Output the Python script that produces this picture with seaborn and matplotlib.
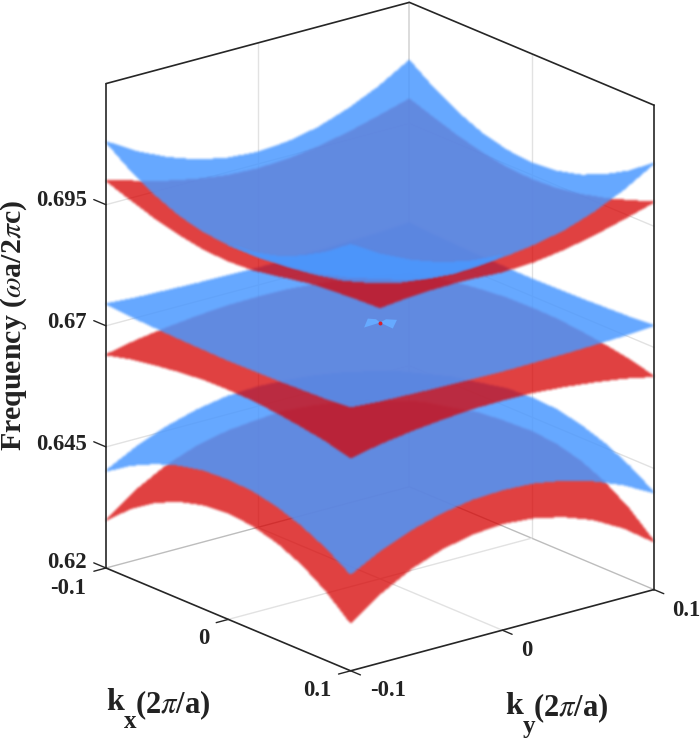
import numpy as np
import matplotlib
matplotlib.use("Agg")
import matplotlib.pyplot as plt
from matplotlib.colors import to_rgb, to_rgba
import seaborn as sns
from mpl_toolkits.mplot3d import proj3d
from mpl_toolkits.mplot3d.art3d import Poly3DCollection

# wave vector knots for one quadrant, the bands are mirrored to the other three
k_knots = [0.0, 0.02, 0.04, 0.06, 0.08, 0.1]

band1_red = [
    [0.6505, 0.6505, 0.6502, 0.6487, 0.6460, 0.6420],
    [0.6505, 0.6505, 0.6499, 0.6483, 0.6455, 0.6415],
    [0.6502, 0.6499, 0.6490, 0.6472, 0.6442, 0.6401],
    [0.6487, 0.6483, 0.6472, 0.6451, 0.6420, 0.6378],
    [0.6460, 0.6455, 0.6442, 0.6420, 0.6387, 0.6344],
    [0.6420, 0.6415, 0.6401, 0.6378, 0.6344, 0.6299],
]
band2_blue = [
    [0.6560, 0.6558, 0.6555, 0.6542, 0.6520, 0.6490],
    [0.6558, 0.6557, 0.6553, 0.6539, 0.6517, 0.6487],
    [0.6555, 0.6553, 0.6545, 0.6530, 0.6507, 0.6476],
    [0.6542, 0.6539, 0.6530, 0.6514, 0.6490, 0.6458],
    [0.6520, 0.6517, 0.6507, 0.6490, 0.6466, 0.6433],
    [0.6490, 0.6487, 0.6476, 0.6458, 0.6433, 0.6400],
]
band3_red = [
    [0.6710, 0.6709, 0.6704, 0.6697, 0.6688, 0.6675],
    [0.6709, 0.6707, 0.6703, 0.6696, 0.6686, 0.6674],
    [0.6704, 0.6703, 0.6699, 0.6692, 0.6682, 0.6669],
    [0.6697, 0.6696, 0.6692, 0.6685, 0.6675, 0.6662],
    [0.6688, 0.6686, 0.6682, 0.6675, 0.6665, 0.6653],
    [0.6675, 0.6674, 0.6669, 0.6662, 0.6653, 0.6640],
]
band4_blue = [
    [0.6729, 0.6728, 0.6728, 0.6729, 0.6732, 0.6735],
    [0.6728, 0.6728, 0.6728, 0.6730, 0.6732, 0.6736],
    [0.6728, 0.6728, 0.6729, 0.6731, 0.6734, 0.6737],
    [0.6729, 0.6730, 0.6731, 0.6733, 0.6735, 0.6739],
    [0.6732, 0.6732, 0.6734, 0.6735, 0.6738, 0.6741],
    [0.6735, 0.6736, 0.6737, 0.6739, 0.6741, 0.6745],
]
band5_red = [
    [0.6760, 0.6800, 0.6838, 0.6874, 0.6908, 0.6940],
    [0.6800, 0.6816, 0.6847, 0.6880, 0.6912, 0.6943],
    [0.6838, 0.6847, 0.6868, 0.6895, 0.6923, 0.6952],
    [0.6874, 0.6880, 0.6895, 0.6916, 0.6940, 0.6965],
    [0.6908, 0.6912, 0.6923, 0.6940, 0.6960, 0.6982],
    [0.6940, 0.6943, 0.6952, 0.6965, 0.6982, 0.7000],
]
band6_blue = [
    [0.6820, 0.6839, 0.6864, 0.6895, 0.6932, 0.6974],
    [0.6839, 0.6849, 0.6871, 0.6901, 0.6937, 0.6979],
    [0.6864, 0.6871, 0.6890, 0.6917, 0.6951, 0.6992],
    [0.6895, 0.6901, 0.6917, 0.6942, 0.6974, 0.7014],
    [0.6932, 0.6937, 0.6951, 0.6974, 0.7005, 0.7043],
    [0.6974, 0.6979, 0.6992, 0.7014, 0.7043, 0.7080],
]

# small bow tie where the bands nearly touch
tie_z = 0.6729
tie_left_kx = [0.0009, -0.0086, -0.0052, 0.0]
tie_left_ky = [-0.0112, -0.0011, 0.0016, 0.0]
tie_right_kx = [-0.0020, 0.0022, 0.0112, 0.0]
tie_right_ky = [0.0056, 0.0094, -0.0006, 0.0]

kx_ticks = [-0.1, 0, 0.1]
ky_ticks = [-0.1, 0, 0.1]
z_ticks = [0.62, 0.645, 0.67, 0.695]
z_top = 0.72

BLUE = "#4A98FF"
RED = "#D70202"
BLUE_ALPHA = 0.92
RED_ALPHA = 0.87
W, H = 700, 738


def mirror(quadrant):
    q = np.array(quadrant)
    half = np.vstack([q[:0:-1], q])
    return np.hstack([half[:, :0:-1], half])


def put_text(x, y, s, **kw):
    # x, y are picture pixels measured from the top left
    fig.text(x / W, 1 - y / H, s, family = "Liberation Serif", fontweight = "bold", color = "#222222", **kw)


def group_alpha(color, alpha):
    # draws a whole surface as one sheet, so the cells do not show seams, and softens its edge
    rgb = np.array(to_rgb(color))

    def apply(im, dpi):
        a = np.pad(im[..., 3], 2)
        a = np.lib.stride_tricks.sliding_window_view(a, (3, 3)).mean(axis = (2, 3))
        out = np.zeros(a.shape + (4,))
        out[..., :3] = rgb
        out[..., 3] = a * alpha
        return out, -1, -1

    return apply


sns.set_theme(style = "white")
plt.rcParams["mathtext.fontset"] = "stix"

fig = plt.figure(figsize = (W / 100, H / 100), dpi = 100)
ax = fig.add_axes([0, 0, 1, 1], projection = "3d", proj_type = "ortho", computed_zorder = False)
ax.set_xlim(-0.1, 0.1)
ax.set_ylim(-0.1, 0.1)
ax.set_zlim(0.62, z_top)
ax.view_init(elev = 19.6, azim = -38.6)
ax.set_box_aspect((392, 388, 514))
ax.set_axis_off()

# fit the square axes so the floor corners land where they are in the reference
fig.canvas.draw()
def corner(kx, ky, z):
    px, py, _ = proj3d.proj_transform(kx, ky, z, ax.get_proj())
    return ax.transData.transform((px, py))
left = corner(-0.1, -0.1, 0.62)
right = corner(0.1, 0.1, 0.62)
box = ax.get_window_extent()
scale = (654 - 106) / (right[0] - left[0])
size = box.width * scale
cx = 106 - scale * (left[0] - (box.x0 + box.width / 2))
cy = (H - 568) - scale * (left[1] - (box.y0 + box.height / 2))
ax.set_position([(cx - size / 2) / W, (cy - size / 2) / H, size / W, size / H])

# walls and floor
GRID = "#e2e2e2"
FLOOR = "#bdbdbd"
for z in z_ticks[1:]:
    ax.plot([-0.1, -0.1, 0.1], [-0.1, 0.1, 0.1], [z, z, z], color = GRID, lw = 1, zorder = 1)
ax.plot([-0.1, -0.1], [0, 0], [0.62, z_top], color = GRID, lw = 1, zorder = 1)
ax.plot([0, 0], [0.1, 0.1], [0.62, z_top], color = GRID, lw = 1, zorder = 1)
ax.plot([-0.1, -0.1], [0.1, 0.1], [0.62, z_top], color = "#d5d5d5", lw = 1.2, zorder = 1)
ax.plot([-0.1, -0.1, 0.1], [-0.1, 0.1, 0.1], [0.62, 0.62, 0.62], color = FLOOR, lw = 1, zorder = 1)
ax.plot([0, 0], [-0.1, 0.1], [0.62, 0.62], color = GRID, lw = 1, zorder = 1)
ax.plot([-0.1, 0.1], [0, 0], [0.62, 0.62], color = GRID, lw = 1, zorder = 1)

# bands, lowest first
k_full = np.concatenate([-np.array(k_knots)[:0:-1], k_knots])
KY, KX = np.meshgrid(k_full, k_full)
n_cells = len(k_full) - 1


def draw_sheet(band, color, alpha, zo, cell_mask = None):
    cells = np.tile(to_rgba(color, 1.0), (n_cells, n_cells, 1))
    if cell_mask is not None:
        cells[~cell_mask] = (0, 0, 0, 0)
    surf = ax.plot_surface(KX, KY, mirror(band), facecolors = cells, shade = False, linewidth = 0,
                           antialiased = False, rstride = 1, cstride = 1, zorder = zo)
    surf.set_edgecolor("none")
    surf.set_agg_filter(group_alpha(color, alpha))


draw_sheet(band1_red, RED, RED_ALPHA, 2)
draw_sheet(band2_blue, BLUE, BLUE_ALPHA, 3)
draw_sheet(band3_red, RED, RED_ALPHA, 4)
draw_sheet(band4_blue, BLUE, BLUE_ALPHA, 5)
draw_sheet(band5_red, RED, RED_ALPHA, 7)

# the front quadrant of the top band folds over the rest of it in this view, so it is a sheet of its own
front = np.zeros((n_cells, n_cells), dtype = bool)
front[n_cells // 2:, :n_cells // 2] = True
draw_sheet(band6_blue, BLUE, BLUE_ALPHA, 8, ~front)
draw_sheet(band6_blue, BLUE, BLUE_ALPHA, 8.5, front)

tie = [list(zip(tie_left_kx, tie_left_ky, [tie_z] * 4)), list(zip(tie_right_kx, tie_right_ky, [tie_z] * 4))]
ax.add_collection3d(Poly3DCollection(tie, facecolor = "#66aaff", edgecolor = "none", zorder = 6))
ax.scatter([0], [0], [tie_z], color = "#d8202c", s = 8, linewidths = 0, depthshade = False, zorder = 6)

# black box edges
EDGE = "#262626"
ax.plot([-0.1, 0.1, 0.1], [-0.1, -0.1, 0.1], [0.62, 0.62, 0.62], color = EDGE, lw = 1.2, zorder = 9)
ax.plot([-0.1, -0.1, 0.1], [-0.1, 0.1, 0.1], [z_top, z_top, z_top], color = EDGE, lw = 1.2, zorder = 9)
ax.plot([-0.1, -0.1], [-0.1, -0.1], [0.62, z_top], color = EDGE, lw = 1.2, zorder = 9)
ax.plot([0.1, 0.1], [0.1, 0.1], [0.62, z_top], color = EDGE, lw = 1.2, zorder = 9)

# tick marks
for z in z_ticks:
    ax.plot([-0.11, -0.1], [-0.1, -0.1], [z, z], color = EDGE, lw = 1, zorder = 9)
for kx in kx_ticks:
    ax.plot([kx, kx], [-0.108, -0.1], [0.62, 0.62], color = EDGE, lw = 1, zorder = 9)
for ky in ky_ticks:
    ax.plot([0.1, 0.108], [ky, ky], [0.62, 0.62], color = EDGE, lw = 1, zorder = 9)

# tick labels
for z, y in zip(z_ticks, [563, 445, 323, 201]):
    put_text(87, y, f"{z:g}", fontsize = 16.3, ha = "right", va = "center")
for kx, (x, y) in zip(kx_ticks, [(68, 589), (204, 638), (317, 690)]):
    put_text(x, y, f"{kx:g}", fontsize = 16.3, ha = "center", va = "center")
for ky, (x, y) in zip(ky_ticks, [(388, 691), (527, 650), (686, 610)]):
    put_text(x, y, f"{ky:g}", fontsize = 16.3, ha = "center", va = "center")

put_text(14, 325, r"Frequency ($\omega$a/2$\pi$c)", fontsize = 21.5, rotation = 90, ha = "center", va = "center")

# axis labels are built from pieces so the subscript sits as low as in the reference
put_text(106, 703, "k", fontsize = 23, ha = "left", va = "center")
put_text(124, 722, "x", fontsize = 18, ha = "left", va = "center")
put_text(135, 705, r"(2$\pi$/a)", fontsize = 22, ha = "left", va = "center")
put_text(505, 707, "k", fontsize = 23, ha = "left", va = "center")
put_text(523, 726, "y", fontsize = 18, ha = "left", va = "center")
put_text(533, 708, r"(2$\pi$/a)", fontsize = 22, ha = "left", va = "center")

fig.savefig("out.png", dpi = 100)
plt.close(fig)
